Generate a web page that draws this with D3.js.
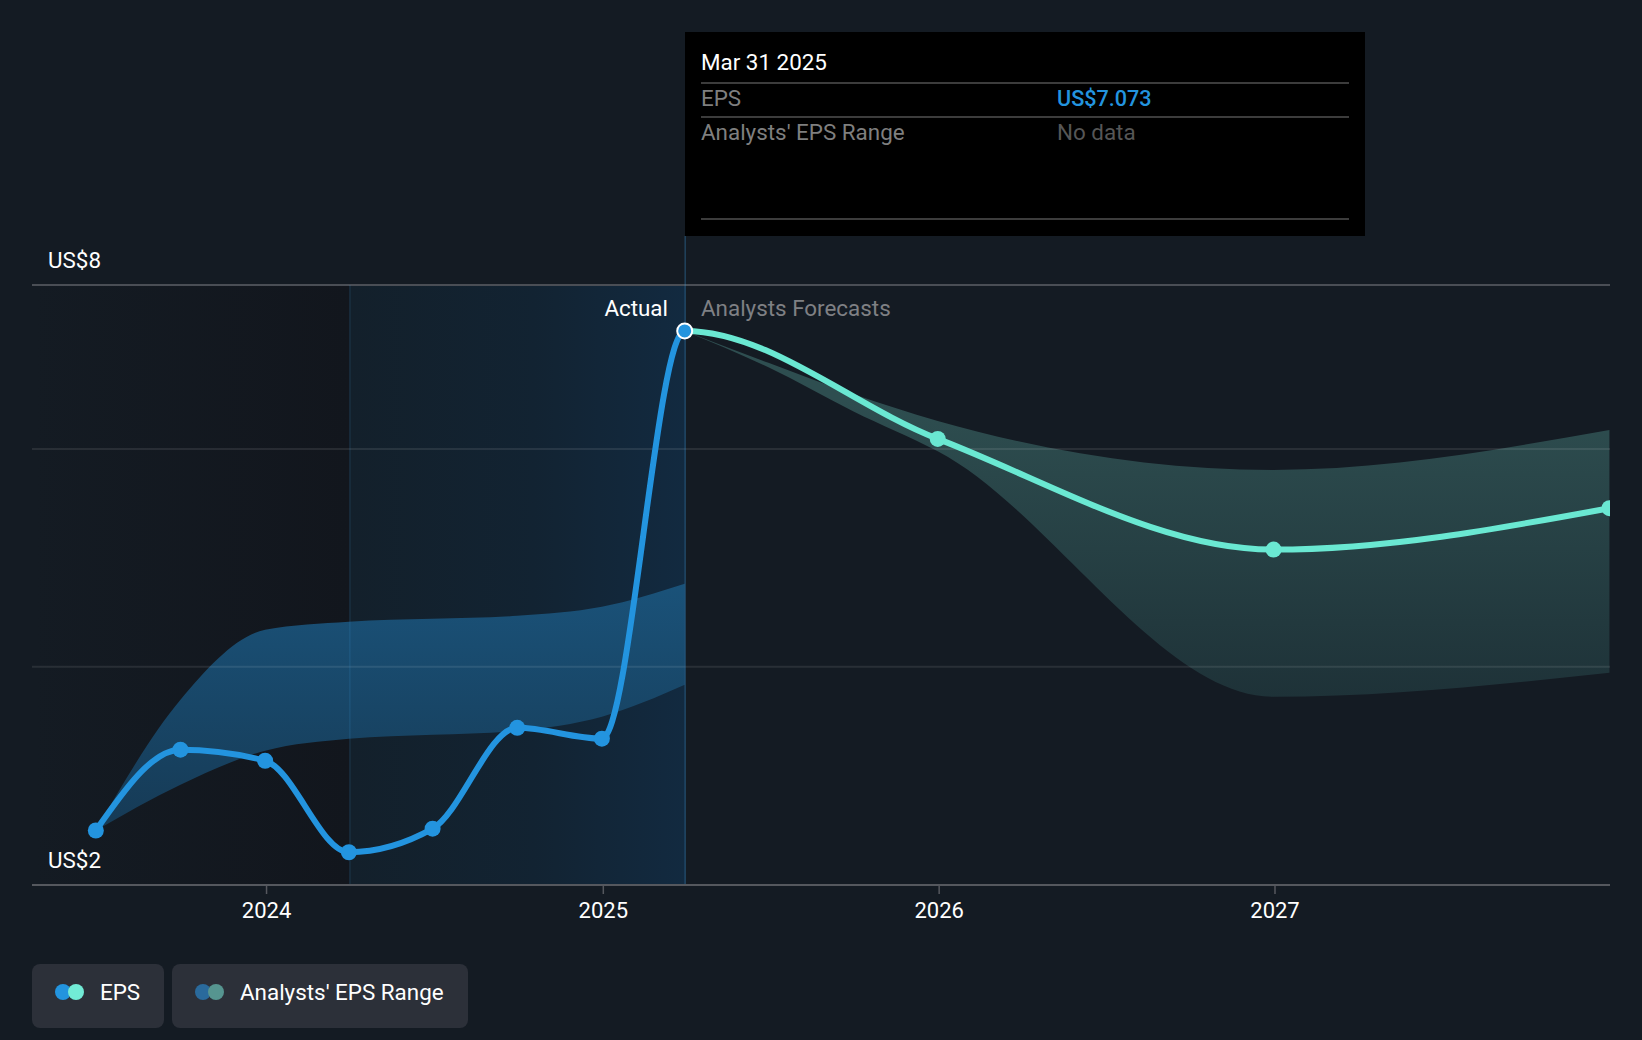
<!DOCTYPE html>
<html>
<head>
<meta charset="utf-8">
<script src="https://cdn.jsdelivr.net/npm/d3@7"></script>
<style>
  html, body { margin: 0; padding: 0; background: #141b23; }
  svg { display: block; font-family: Roboto, sans-serif; }
</style>
</head>
<body>
<svg id="chart" width="1642" height="1040"></svg>
<script>
// Datos
var dates = ["2023-06-30", "2023-09-30", "2023-12-31", "2024-03-31", "2024-06-30", "2024-09-30", "2024-12-31", "2025-03-31", "2025-12-31", "2026-12-31", "2027-12-31"];
var eps = [1.852, 2.300, 2.233, 1.747, 1.861, 2.439, 2.369, 7.073, 5.294, 3.934, 4.396];

var pastDates = dates.slice(0, 8);
var pastHigh = [1.852, 2.630, 3.172, 3.242, 3.267, 3.294, 3.374, 3.589];
var pastLow = [1.852, 2.094, 2.294, 2.369, 2.394, 2.420, 2.513, 2.737];

var futureDates = ["2025-03-31", "2025-06-30", "2025-09-30", "2025-12-31", "2026-12-31", "2027-12-31"];
var futureHigh = [7.073, 6.493, 5.973, 5.556, 4.872, 5.423];
var futureLow = [7.073, 6.415, 5.703, 5.122, 2.651, 2.827];

var yearTicks = ["2024-01-01", "2025-01-01", "2026-01-01", "2027-01-01"];
var gridValues = [8, 5.154, 2.873];
var yLabels = ["US$8", "US$2"];

var parse = d3.utcParse("%Y-%m-%d");
var svg = d3.select("#chart");

var x = d3.scaleUtc()
  .domain([parse("2023-04-20"), parse("2027-12-30")])
  .range([30.5, 1608.5]);
// Escala logaritmica, el 7.073 cae donde esta en la imagen
var y = d3.scaleLog().domain([1.6, 8]).range([885, 285]);

var plotLeft = 32, plotRight = 1610;
var plotTop = y(8), plotBottom = y(1.6);
var actualX = x(parse(dates[7])) + 0.5;
var startX = x(parse(dates[3])) + 1;

// Gradientes
var defs = svg.append("defs");
function gradient(id, stops, box) {
  var g = defs.append("linearGradient").attr("id", id).attr("gradientUnits", "userSpaceOnUse")
    .attr("x1", box[0]).attr("y1", box[1]).attr("x2", box[2]).attr("y2", box[3]);
  stops.forEach(function(s) {
    g.append("stop").attr("offset", s[0]).attr("stop-color", s[1]).attr("stop-opacity", s[2]);
  });
}
gradient("pastShade", [[0, "#12161d", 0], [1, "#12161d", 1]], [plotLeft, 0, startX, 0]);
gradient("actualShade", [[0, "#13202b", 1], [0.55, "#122332", 1], [1, "#122a40", 1]], [startX, 0, actualX, 0]);
gradient("blueBand", [[0, "#1a5279", 1], [1, "#163a55", 1]], [0, 584, 0, 830]);
gradient("tealBand", [[0, "#2e4e50", 1], [1, "#1e3238", 1]], [0, 400, 0, 697]);

// Zonas de fondo
svg.append("rect").attr("x", plotLeft).attr("y", plotTop).attr("width", startX - plotLeft).attr("height", plotBottom - plotTop).attr("fill", "url(#pastShade)");
svg.append("rect").attr("x", startX).attr("y", plotTop).attr("width", actualX - startX).attr("height", plotBottom - plotTop).attr("fill", "url(#actualShade)");

// Bandas de los analistas
var band = d3.area()
  .x(function(d) { return x(parse(d.date)); })
  .y0(function(d) { return y(d.low); })
  .y1(function(d) { return y(d.high); })
  .curve(d3.curveMonotoneX);

var pastBand = pastDates.map(function(d, i) { return { date: d, high: pastHigh[i], low: pastLow[i] }; });
var futureBand = futureDates.map(function(d, i) { return { date: d, high: futureHigh[i], low: futureLow[i] }; });

svg.append("path").attr("d", band(pastBand)).attr("fill", "url(#blueBand)").attr("clip-path", "url(#clipPast)");
svg.append("path").attr("d", band(futureBand)).attr("fill", "url(#tealBand)").attr("clip-path", "url(#clipPlot)");

// Lineas de la cuadricula
svg.append("g").selectAll("line").data(gridValues).enter().append("line")
  .attr("x1", plotLeft).attr("x2", plotRight)
  .attr("y1", function(d) { return y(d); })
  .attr("y2", function(d) { return y(d); })
  .attr("stroke", function(d, i) { return i == 0 ? "#4a4e55" : "#ffffff"; })
  .attr("stroke-opacity", function(d, i) { return i == 0 ? 1 : 0.09; })
  .attr("stroke-width", 2);

// Separadores verticales, translucidos para que se vean sobre la banda
[[startX, plotTop, 0.16], [actualX, 236, 0.32]].forEach(function(v) {
  svg.append("line").attr("x1", v[0]).attr("x2", v[0]).attr("y1", v[1]).attr("y2", plotBottom)
    .attr("stroke", "#3f97d6").attr("stroke-opacity", v[2]).attr("stroke-width", 1.5);
});

// Eje X
svg.append("line").attr("x1", plotLeft).attr("x2", plotRight).attr("y1", plotBottom).attr("y2", plotBottom)
  .attr("stroke", "#55585e").attr("stroke-width", 2);
var axis = svg.append("g").attr("transform", "translate(0," + plotBottom + ")")
  .call(d3.axisBottom(x).tickValues(yearTicks.map(parse)).tickFormat(d3.utcFormat("%Y")).tickSize(9).tickSizeOuter(0).tickPadding(8));
axis.select(".domain").remove();
axis.selectAll(".tick line").attr("stroke", "#55585e").attr("stroke-width", 1.5);
axis.selectAll(".tick text").attr("fill", "#fff").attr("font-size", 22).attr("font-family", "Roboto, sans-serif");

// Linea de EPS, una sola curva cortada en dos colores
var points = dates.map(function(d, i) { return { date: d, value: eps[i] }; });
var line = d3.line()
  .x(function(d) { return x(parse(d.date)); })
  .y(function(d) { return y(d.value); })
  .curve(d3.curveMonotoneX);

defs.append("clipPath").attr("id", "clipPast").append("rect")
  .attr("x", 0).attr("y", 0).attr("width", actualX).attr("height", 1040);
defs.append("clipPath").attr("id", "clipFuture").append("rect")
  .attr("x", actualX).attr("y", 0).attr("width", plotRight - actualX).attr("height", 1040);
defs.append("clipPath").attr("id", "clipPlot").append("rect")
  .attr("x", 0).attr("y", 0).attr("width", plotRight).attr("height", 1040);

svg.append("path").attr("d", line(points)).attr("fill", "none").attr("stroke", "#2394df")
  .attr("stroke-width", 6).attr("clip-path", "url(#clipPast)");
svg.append("path").attr("d", line(points)).attr("fill", "none").attr("stroke", "#6ae8d2")
  .attr("stroke-width", 6).attr("clip-path", "url(#clipFuture)");

// Puntos
var dots = svg.append("g").attr("clip-path", "url(#clipPlot)");
dots.selectAll("circle").data(points).enter().append("circle")
  .attr("cx", function(d) { return x(parse(d.date)); })
  .attr("cy", function(d) { return y(d.value); })
  .attr("r", function(d, i) { return i == 7 ? 7.5 : 8; })
  .attr("fill", function(d, i) { return i <= 7 ? "#2394df" : "#6ae8d2"; })
  .attr("stroke", function(d, i) { return i == 7 ? "#fff" : "none"; })
  .attr("stroke-width", 2);

// Textos del grafico
function label(text, px, py, fill, anchor, weight, size) {
  return svg.append("text").attr("x", px).attr("y", py).attr("fill", fill)
    .attr("text-anchor", anchor || "start").attr("font-weight", weight || 400)
    .attr("font-size", size || 22.4).text(text);
}
label(yLabels[0], 48, 268, "#fff");
label(yLabels[1], 48, 868, "#fff");
label("Actual", 668, 316, "#fff", "end");
label("Analysts Forecasts", 701, 316, "#7f8084");

// Cuadro de informacion
svg.append("rect").attr("x", 685).attr("y", 32).attr("width", 680).attr("height", 204).attr("fill", "#000");
[83, 117, 219].forEach(function(ly) {
  svg.append("line").attr("x1", 701).attr("x2", 1349).attr("y1", ly).attr("y2", ly)
    .attr("stroke", "#3c3c3c").attr("stroke-width", 2);
});
label("Mar 31 2025", 701, 70, "#fff");
label("EPS", 701, 106, "#7f7f7f");
label("US$7.073", 1057, 106, "#2394df", "start", 500, 21.6);
label("Analysts' EPS Range", 701, 140, "#7f7f7f");
label("No data", 1057, 140, "#565656");

// Leyenda
var legend = [
  { x: 32, w: 132, text: "EPS", tx: 100, c1: "#2394df", c2: "#72ebd6", cx: 63 },
  { x: 172, w: 296, text: "Analysts' EPS Range", tx: 240, c1: "#2a6a9c", c2: "#569590", cx: 203 }
];
legend.forEach(function(l) {
  svg.append("rect").attr("x", l.x).attr("y", 964).attr("width", l.w).attr("height", 64).attr("rx", 8).attr("fill", "#2c3039");
  svg.append("circle").attr("cx", l.cx).attr("cy", 992).attr("r", 8).attr("fill", l.c1);
  svg.append("circle").attr("cx", l.cx + 13).attr("cy", 992).attr("r", 8).attr("fill", l.c2);
  label(l.text, l.tx, 1000, "#fff");
});
</script>
</body>
</html>
